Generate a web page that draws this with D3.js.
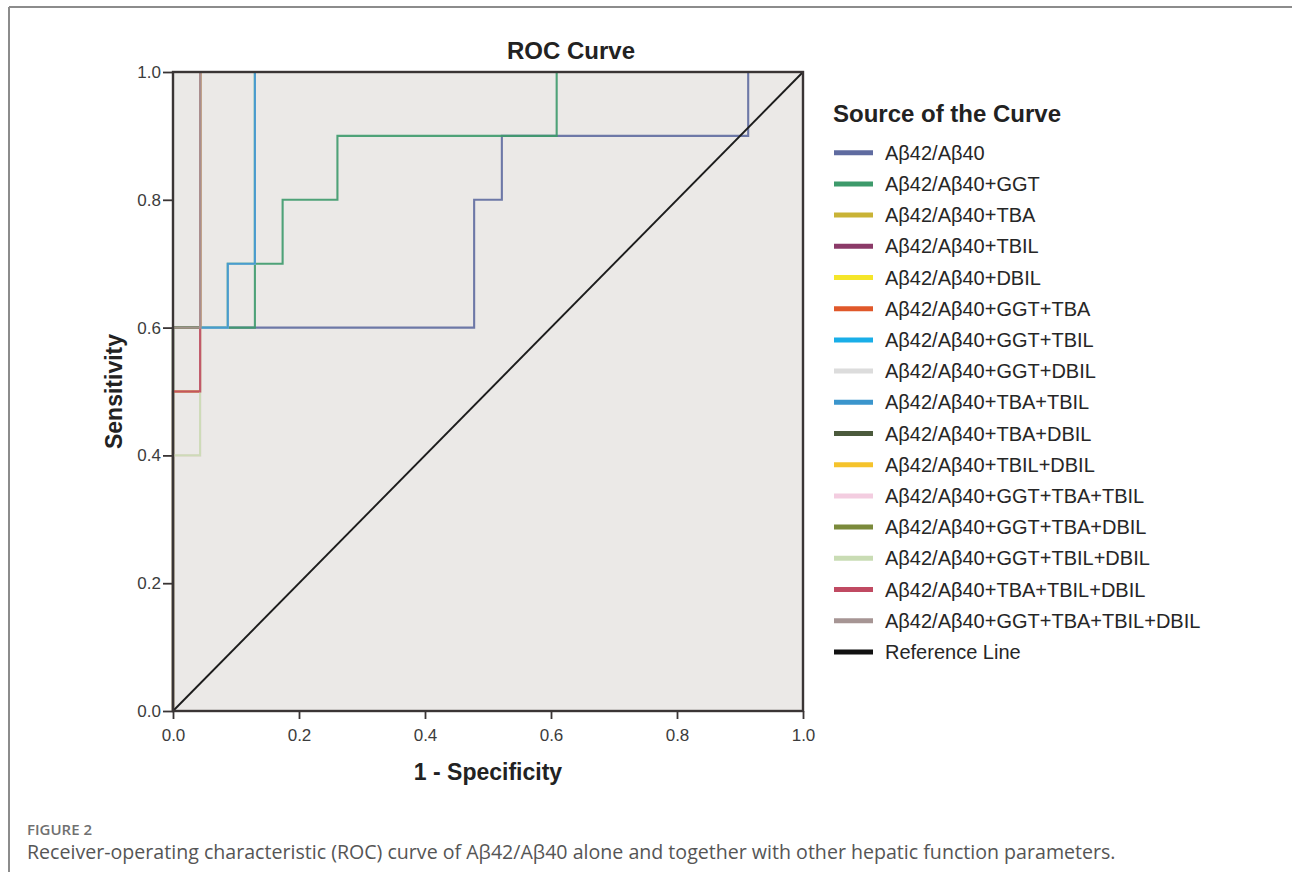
<!DOCTYPE html>
<html>
<head>
<meta charset="utf-8">
<script src="https://cdn.jsdelivr.net/npm/d3@7"></script>
<style>
    body { margin: 0; background: #fff; }
    svg text { font-family: "Liberation Sans", Arial, sans-serif; }
    .caption { font-family: "Open Sans", sans-serif !important; }
</style>
</head>
<body>
<svg id="chart" width="1292" height="872"></svg>
<script>

// ROC coordinates: [1 - specificity, sensitivity]
var curveNames = [
    "Aβ42/Aβ40", "Aβ42/Aβ40+GGT", "Aβ42/Aβ40+TBA", "Aβ42/Aβ40+TBIL", "Aβ42/Aβ40+DBIL",
    "Aβ42/Aβ40+GGT+TBA", "Aβ42/Aβ40+GGT+TBIL", "Aβ42/Aβ40+GGT+DBIL", "Aβ42/Aβ40+TBA+TBIL",
    "Aβ42/Aβ40+TBA+DBIL", "Aβ42/Aβ40+TBIL+DBIL", "Aβ42/Aβ40+GGT+TBA+TBIL", "Aβ42/Aβ40+GGT+TBA+DBIL",
    "Aβ42/Aβ40+GGT+TBIL+DBIL", "Aβ42/Aβ40+TBA+TBIL+DBIL", "Aβ42/Aβ40+GGT+TBA+TBIL+DBIL"
];
var curveColors = [
    "#5f6ba0", "#3d9a6b", "#c9b336", "#8b3a68", "#f5e62a",
    "#e0582a", "#19aee8", "#dcdcdc", "#3b95cc",
    "#4b5a3c", "#f5c32c", "#f3cde0", "#7b8a3b",
    "#c9dcb4", "#c04a62", "#a69594"
];

var rocAb       = [[0,0],[0,0.6],[0.478,0.6],[0.478,0.8],[0.522,0.8],[0.522,0.9],[0.913,0.9],[0.913,1],[1,1]];
var rocGgt      = [[0,0],[0,0.6],[0.130,0.6],[0.130,0.7],[0.174,0.7],[0.174,0.8],[0.261,0.8],[0.261,0.9],[0.609,0.9],[0.609,1],[1,1]];
var rocTba      = [[0,0],[0,0.6],[0.043,0.6],[0.043,1],[1,1]];
var rocTbil     = [[0,0],[0,0.5],[0.043,0.5],[0.043,1],[1,1]];
var rocDbil     = [[0,0],[0,0.6],[0.087,0.6],[0.087,0.7],[0.130,0.7],[0.130,1],[1,1]];
var rocGgtTba   = [[0,0],[0,0.6],[0.043,0.6],[0.043,1],[1,1]];
var rocGgtTbil  = [[0,0],[0,0.6],[0.087,0.6],[0.087,0.7],[0.130,0.7],[0.130,1],[1,1]];
var rocGgtDbil  = [[0,0],[0,0.6],[0.087,0.6],[0.087,0.7],[0.130,0.7],[0.130,1],[1,1]];
var rocTbaTbil  = [[0,0],[0,0.6],[0.087,0.6],[0.087,0.7],[0.130,0.7],[0.130,1],[1,1]];
var rocTbaDbil  = [[0,0],[0,0.6],[0.043,0.6],[0.043,1],[1,1]];
var rocTbilDbil = [[0,0],[0,0.5],[0.043,0.5],[0.043,1],[1,1]];
var rocGgtTbaTbil  = [[0,0],[0,0.4],[0.043,0.4],[0.043,1],[1,1]];
var rocGgtTbaDbil  = [[0,0],[0,0.6],[0.043,0.6],[0.043,1],[1,1]];
var rocGgtTbilDbil = [[0,0],[0,0.4],[0.043,0.4],[0.043,1],[1,1]];
var rocTbaTbilDbil = [[0,0],[0,0.5],[0.043,0.5],[0.043,1],[1,1]];
var rocAll         = [[0,0],[0,0.6],[0.043,0.6],[0.043,1],[1,1]];
var rocReference   = [[0,0],[1,1]];

var xTicks = [0, 0.2, 0.4, 0.6, 0.8, 1.0];
var yTicks = [0, 0.2, 0.4, 0.6, 0.8, 1.0];

var curves = [rocAb, rocGgt, rocTba, rocTbil, rocDbil, rocGgtTba, rocGgtTbil, rocGgtDbil,
    rocTbaTbil, rocTbaDbil, rocTbilDbil, rocGgtTbaTbil, rocGgtTbaDbil, rocGgtTbilDbil,
    rocTbaTbilDbil, rocAll];

var PLOT_LEFT = 173, PLOT_RIGHT = 803, PLOT_TOP = 72, PLOT_BOTTOM = 711;
var LEGEND_X = 833, LEGEND_Y = 152.7, LEGEND_STEP = 31.2;

var svg = d3.select("#chart");

var xScale = d3.scaleLinear().domain([0, 1]).range([PLOT_LEFT, PLOT_RIGHT]);
var yScale = d3.scaleLinear().domain([0, 1]).range([PLOT_BOTTOM, PLOT_TOP]);

// figure frame
svg.append("line").attr("x1", 9).attr("x2", 1292).attr("y1", 7).attr("y2", 7)
    .attr("stroke", "#8c8c8c").attr("stroke-width", 2);
svg.append("line").attr("x1", 9).attr("x2", 9).attr("y1", 7).attr("y2", 872)
    .attr("stroke", "#8c8c8c").attr("stroke-width", 2);

svg.append("rect")
    .attr("x", PLOT_LEFT).attr("y", PLOT_TOP)
    .attr("width", PLOT_RIGHT - PLOT_LEFT).attr("height", PLOT_BOTTOM - PLOT_TOP)
    .attr("fill", "#ebe9e7");

var line = d3.line()
    .x(function(d){ return xScale(d[0]); })
    .y(function(d){ return yScale(d[1]); });

svg.append("g").attr("class", "curves")
    .selectAll("path")
    .data(curves)
    .enter().append("path")
    .attr("d", line)
    .attr("fill", "none")
    .attr("stroke", function(d, i){ return curveColors[i]; })
    .attr("stroke-width", 2.1)
    .attr("stroke-opacity", 0.9);

svg.append("path")
    .attr("d", line(rocReference))
    .attr("fill", "none")
    .attr("stroke", "#1c1c1c")
    .attr("stroke-width", 1.9);

// frame of plot
svg.append("rect")
    .attr("x", PLOT_LEFT).attr("y", PLOT_TOP)
    .attr("width", PLOT_RIGHT - PLOT_LEFT).attr("height", PLOT_BOTTOM - PLOT_TOP)
    .attr("fill", "none").attr("stroke", "#3a3535").attr("stroke-width", 2.4);

var yAxis = svg.append("g")
    .attr("transform", "translate(" + PLOT_LEFT + ",0)")
    .call(d3.axisLeft(yScale).tickValues(yTicks).tickFormat(d3.format(".1f")).tickSize(10).tickPadding(2));
var xAxis = svg.append("g")
    .attr("transform", "translate(0," + PLOT_BOTTOM + ")")
    .call(d3.axisBottom(xScale).tickValues(xTicks).tickFormat(d3.format(".1f")).tickSize(8).tickPadding(10));

[xAxis, yAxis].forEach(function(ax){
    ax.select(".domain").remove();
    ax.selectAll(".tick line").attr("stroke", "#3a3535").attr("stroke-width", 1.8);
    ax.selectAll(".tick text")
        .attr("fill", "#3c3c3c")
        .style("font-size", "17px")
        .style("font-family", "'Liberation Sans', Arial, sans-serif");
});

svg.append("text")
    .attr("x", 571).attr("y", 59)
    .attr("text-anchor", "middle")
    .style("font-size", "24px").style("font-weight", "bold")
    .attr("fill", "#222")
    .text("ROC Curve");

svg.append("text")
    .attr("transform", "translate(122," + (PLOT_TOP + PLOT_BOTTOM) / 2 + ") rotate(-90)")
    .attr("text-anchor", "middle")
    .style("font-size", "23px").style("font-weight", "bold")
    .attr("fill", "#222")
    .text("Sensitivity");

svg.append("text")
    .attr("x", (PLOT_LEFT + PLOT_RIGHT) / 2).attr("y", 780)
    .attr("text-anchor", "middle")
    .style("font-size", "23px").style("font-weight", "bold")
    .attr("fill", "#222")
    .text("1 - Specificity");

// legend
var legend = svg.append("g").attr("class", "legend");
legend.append("text")
    .attr("x", LEGEND_X).attr("y", 122)
    .style("font-size", "24px").style("font-weight", "bold")
    .attr("fill", "#222")
    .text("Source of the Curve");

var legendNames = curveNames.concat(["Reference Line"]);
var legendColors = curveColors.concat(["#111111"]);

var rows = legend.selectAll(".row")
    .data(legendNames)
    .enter().append("g")
    .attr("class", "row")
    .attr("transform", function(d, i){ return "translate(" + LEGEND_X + "," + (LEGEND_Y + i * LEGEND_STEP) + ")"; });
rows.append("line")
    .attr("x1", 1).attr("x2", 40)
    .attr("stroke", function(d, i){ return legendColors[i]; })
    .attr("stroke-width", 5);
rows.append("text")
    .attr("x", 52).attr("dy", "0.35em")
    .style("font-size", "20px")
    .attr("fill", "#262626")
    .text(function(d){ return d; });

// caption
svg.append("text").attr("class", "caption")
    .attr("x", 27).attr("y", 835)
    .style("font-size", "15px").style("font-weight", "600")
    .attr("fill", "#707070")
    .text("FIGURE 2");
svg.append("text").attr("class", "caption")
    .attr("x", 27).attr("y", 859)
    .style("font-size", "19.6px")
    .attr("fill", "#555")
    .text("Receiver-operating characteristic (ROC) curve of Aβ42/Aβ40 alone and together with other hepatic function parameters.");

</script>
</body>
</html>
